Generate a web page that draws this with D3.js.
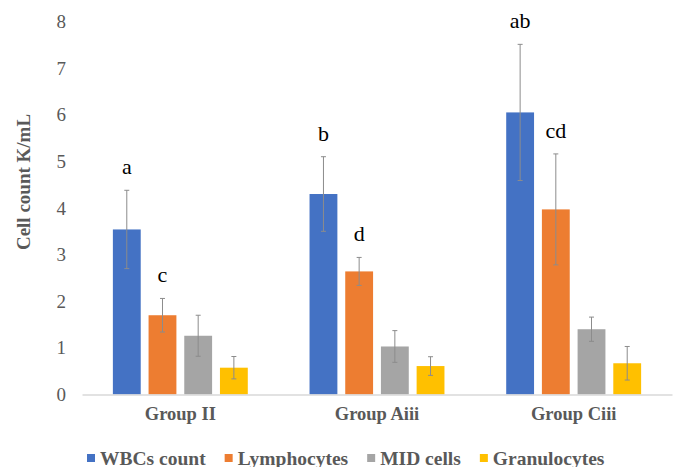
<!DOCTYPE html>
<html>
<head>
<meta charset="utf-8">
<script src="https://cdn.jsdelivr.net/npm/d3@7"></script>
<style>
  body { margin: 0; background: #fff; }
  svg { display: block; }
</style>
</head>
<body>
<svg id="chart" width="683" height="467"></svg>
<script>
// data
const groups = ['Group II', 'Group Aiii', 'Group Ciii'];
const seriesNames = ['WBCs count', 'Lymphocytes', 'MID cells', 'Granulocytes'];
const seriesColors = ['#4472C4', '#ED7D31', '#A5A5A5', '#FFC000'];

const wbcValues = [3.54, 4.30, 6.05];
const wbcErrors = [0.84, 0.80, 1.46];
const lymphValues = [1.70, 2.64, 3.97];
const lymphErrors = [0.36, 0.30, 1.19];
const midValues = [1.26, 1.03, 1.40];
const midErrors = [0.44, 0.34, 0.26];
const granValues = [0.575, 0.61, 0.67];
const granErrors = [0.24, 0.20, 0.36];

// significance letters (group, series, text)
const sigLetters = [
  ['Group II', 'WBCs count', 'a'],
  ['Group II', 'Lymphocytes', 'c'],
  ['Group Aiii', 'WBCs count', 'b'],
  ['Group Aiii', 'Lymphocytes', 'd'],
  ['Group Ciii', 'WBCs count', 'ab'],
  ['Group Ciii', 'Lymphocytes', 'cd']
];

const yTicks = [0, 1, 2, 3, 4, 5, 6, 7, 8];

const allValues = [wbcValues, lymphValues, midValues, granValues];
const allErrors = [wbcErrors, lymphErrors, midErrors, granErrors];

const rows = [];
groups.forEach((g, gi) => {
  seriesNames.forEach((s, si) => {
    rows.push({ group: g, series: s, value: allValues[si][gi], err: allErrors[si][gi], color: seriesColors[si] });
  });
});

const svg = d3.select('#chart');
const serif = '"Liberation Serif", "Times New Roman", serif';
const textGray = '#595959';

/**
 * SCALES
 */
const plotLeft = 82;
const plotRight = 672;
const plotBottom = 394.5;
const plotTop = 21.5;

const x0 = d3.scaleBand().domain(groups).range([plotLeft, plotRight]).padding(0);
const x1 = d3.scaleBand().domain(seriesNames).range([0, x0.bandwidth()])
  .paddingInner(0.22).paddingOuter(0.865);
const y = d3.scaleLinear().domain([0, 8]).range([plotBottom, plotTop]);

/**
 * Y AXIS (labels only)
 */
const yAxis = d3.axisLeft(y).tickValues(yTicks).tickSize(0).tickPadding(0);
const gY = svg.append('g')
  .attr('transform', 'translate(66,0)')
  .call(yAxis);
gY.select('.domain').remove();
gY.selectAll('text')
  .attr('font-family', serif)
  .attr('font-size', 19)
  .attr('fill', textGray);

// y title
svg.append('text')
  .attr('transform', 'translate(30,182) rotate(-90)')
  .attr('text-anchor', 'middle')
  .attr('font-family', serif)
  .attr('font-size', 19)
  .attr('font-weight', 'bold')
  .attr('fill', textGray)
  .text('Cell count K/mL');

/**
 * BARS
 */
svg.append('g')
  .selectAll('rect')
  .data(rows)
  .join('rect')
  .attr('x', (d) => x0(d.group) + x1(d.series))
  .attr('y', (d) => y(d.value))
  .attr('width', x1.bandwidth())
  .attr('height', (d) => y(0) - y(d.value))
  .attr('fill', (d) => d.color);

/**
 * X AXIS
 */
const xAxis = d3.axisBottom(x0).tickSize(0).tickPadding(0);
const gX = svg.append('g')
  .attr('transform', `translate(0,${plotBottom})`)
  .call(xAxis);
gX.select('.domain').attr('stroke', '#D9D9D9').attr('stroke-width', 1.5);
gX.selectAll('text')
  .attr('dy', null)
  .attr('y', 25.5)
  .attr('font-family', serif)
  .attr('font-size', 18.5)
  .attr('font-weight', 'bold')
  .attr('fill', textGray);

/**
 * ERROR BARS
 */
const errG = svg.append('g')
  .attr('stroke', '#8C8C8C')
  .attr('stroke-width', 1)
  .selectAll('g')
  .data(rows)
  .join('g')
  .attr('transform', (d) => `translate(${x0(d.group) + x1(d.series) + x1.bandwidth() / 2},0)`);

errG.append('line')
  .attr('y1', (d) => y(d.value + d.err))
  .attr('y2', (d) => y(d.value - d.err));
errG.append('line')
  .attr('x1', -2.5).attr('x2', 2.5)
  .attr('y1', (d) => y(d.value + d.err))
  .attr('y2', (d) => y(d.value + d.err));
errG.append('line')
  .attr('x1', -2.5).attr('x2', 2.5)
  .attr('y1', (d) => y(d.value - d.err))
  .attr('y2', (d) => y(d.value - d.err));

/**
 * SIGNIFICANCE LETTERS
 */
svg.append('g')
  .selectAll('text')
  .data(sigLetters)
  .join('text')
  .attr('x', (d) => x0(d[0]) + x1(d[1]) + x1.bandwidth() / 2)
  .attr('y', (d) => {
    const r = rows.find((row) => row.group === d[0] && row.series === d[1]);
    return y(r.value + r.err) - 16;
  })
  .attr('text-anchor', 'middle')
  .attr('font-family', serif)
  .attr('font-size', 22)
  .attr('fill', '#000')
  .text((d) => d[2]);

/**
 * LEGEND
 */
const legend = svg.append('g').attr('transform', 'translate(87,458)');
let lx = 0;
seriesNames.forEach((name, i) => {
  const item = legend.append('g').attr('transform', `translate(${lx},0)`);
  item.append('rect')
    .attr('x', 0).attr('y', -4)
    .attr('width', 8).attr('height', 8)
    .attr('fill', seriesColors[i]);
  const t = item.append('text')
    .attr('x', 13)
    .attr('y', 6.5)
    .attr('font-family', serif)
    .attr('font-size', 19.5)
    .attr('font-weight', 'bold')
    .attr('fill', textGray)
    .text(name);
  lx += 13 + t.node().getComputedTextLength() + 19;
});
</script>
</body>
</html>
